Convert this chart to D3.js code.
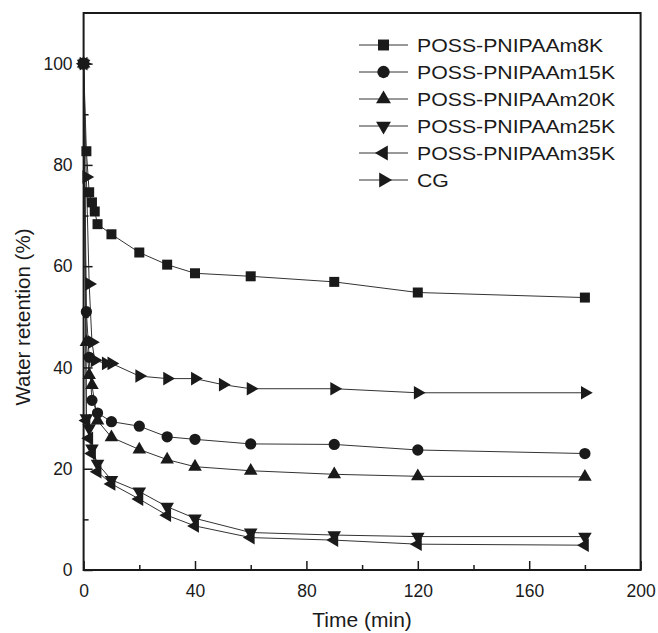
<!DOCTYPE html>
<html><head><meta charset="utf-8">
<script src="https://cdn.jsdelivr.net/npm/d3@7"></script>
<style>body{margin:0;background:#fff}svg{display:block}text{font-family:"Liberation Sans",Arial,sans-serif;fill:#1a1a1a}</style>
</head><body><div id="chart"></div>
<script>
const seriesNames = ["POSS-PNIPAAm8K","POSS-PNIPAAm15K","POSS-PNIPAAm20K","POSS-PNIPAAm25K","POSS-PNIPAAm35K","CG"];
const t8K  = [0,1,2,3,4,5,10,20,30,40,60,90,120,180];
const v8K  = [100,82.7,74.6,72.6,70.8,68.3,66.3,62.7,60.3,58.6,58.0,56.9,54.8,53.8];
const t15K = [0,1,2,3,5,10,20,30,40,60,90,120,180];
const v15K = [100,51,42,33.5,31.0,29.3,28.4,26.3,25.8,24.9,24.8,23.7,23.0];
const t20K = [0,1,2,3,5,10,20,30,40,60,90,120,180];
const v20K = [100,45,38.5,36.5,29.5,26.2,23.8,21.8,20.4,19.6,18.9,18.5,18.4];
const t25K = [0,1,2,3,5,10,20,30,40,60,90,120,180];
const v25K = [100,30,28,24,21,17.8,15.5,12.5,10.2,7.4,6.9,6.6,6.6];
const t35K = [0,1,2,3,5,10,20,30,40,60,90,120,180];
const v35K = [100,29.5,26,23,19.4,17.0,14.0,10.8,8.7,6.4,5.9,5.1,4.9];
const tCG  = [0,1,2,3,4,8,10,20,30,40,50,60,90,120,180];
const vCG  = [100,77.6,56.5,45,41.4,40.8,40.8,38.3,37.8,37.8,36.6,35.8,35.8,35.0,35.0];
const xTicks = [0,40,80,120,160,200];
const yTicks = [0,20,40,60,80,100];

const W=658,H=633;
const m={l:83.6,r:W-640.6,t:13,b:H-570};
const svg=d3.select("#chart").append("svg").attr("width",W).attr("height",H);
const x=d3.scaleLinear().domain([0,200]).range([m.l,W-m.r]);
const y=d3.scaleLinear().domain([0,110]).range([H-m.b,m.t]);

const ink="#1a1a1a";
const shapes=[
 {type:d3.symbolSquare,size:100,rot:0},
 {type:d3.symbolCircle,size:100,rot:0},
 {type:d3.symbolTriangle,size:80,rot:0},
 {type:d3.symbolTriangle,size:80,rot:180},
 {type:d3.symbolTriangle,size:80,rot:270},
 {type:d3.symbolTriangle,size:80,rot:90}
];
const series=[[t8K,v8K],[t15K,v15K],[t20K,v20K],[t25K,v25K],[t35K,v35K],[tCG,vCG]]
 .map(([t,v],i)=>({name:seriesNames[i],pts:t.map((d,j)=>({t:d,v:v[j]})),shape:shapes[i]}));

const line=d3.line().x(d=>x(d.t)).y(d=>y(d.v));
const g=svg.append("g");
series.forEach(s=>{
  g.append("path").attr("d",line(s.pts)).attr("fill","none").attr("stroke","#333").attr("stroke-width",1);
});
series.forEach(s=>{
  g.selectAll(null).data(s.pts).join("path")
   .attr("d",d3.symbol().type(s.shape.type).size(s.shape.size))
   .attr("transform",d=>`translate(${x(d.t)},${y(d.v)}) rotate(${s.shape.rot})`)
   .attr("fill",ink);
});

// axes
const xa=svg.append("g").attr("transform",`translate(0,${H-m.b})`)
 .call(d3.axisBottom(x).tickValues(d3.range(0,201,20)).tickSize(-9).tickFormat(d=>xTicks.includes(d)?d:""));
const ya=svg.append("g").attr("transform",`translate(${m.l},0)`)
 .call(d3.axisLeft(y).tickValues(d3.range(0,101,10)).tickSize(-9).tickFormat(d=>yTicks.includes(d)?d:""));
[xa,ya].forEach(a=>{a.select(".domain").remove();a.selectAll("line").attr("stroke",ink).attr("stroke-width",1.5);
  a.selectAll("text").attr("font-size",17.5).attr("font-family","'Liberation Sans',Arial,sans-serif").attr("fill",ink);});
xa.selectAll(".tick").filter(d=>!xTicks.includes(d)).select("line").attr("y2",-5);
ya.selectAll(".tick").filter(d=>!yTicks.includes(d)).select("line").attr("x2",5);
xa.selectAll("text").attr("dy","0").attr("y",27);
ya.selectAll("text").attr("x",-11);
svg.append("rect").attr("x",m.l).attr("y",m.t).attr("width",W-m.r-m.l).attr("height",H-m.b-m.t)
 .attr("fill","none").attr("stroke",ink).attr("stroke-width",2);

svg.append("text").attr("x",(m.l+W-m.r)/2).attr("y",627).attr("text-anchor","middle").attr("font-size",21).text("Time (min)");
svg.append("text").attr("transform",`translate(30,317) rotate(-90)`).attr("text-anchor","middle").attr("font-size",20.5).text("Water retention (%)");

// legend
const lg=svg.append("g");
series.forEach((s,i)=>{
  const yy=45+i*27;
  lg.append("line").attr("x1",359).attr("x2",408).attr("y1",yy).attr("y2",yy).attr("stroke","#333").attr("stroke-width",1);
  lg.append("path").attr("d",d3.symbol().type(s.shape.type).size(s.shape.size*1.2)).attr("transform",`translate(383.5,${yy}) rotate(${s.shape.rot})`).attr("fill",ink);
  lg.append("text").attr("transform",`translate(417,${yy}) scale(1.12,1)`).attr("dy","0.35em").attr("font-size",19).text(s.name);
});
</script></body></html>
